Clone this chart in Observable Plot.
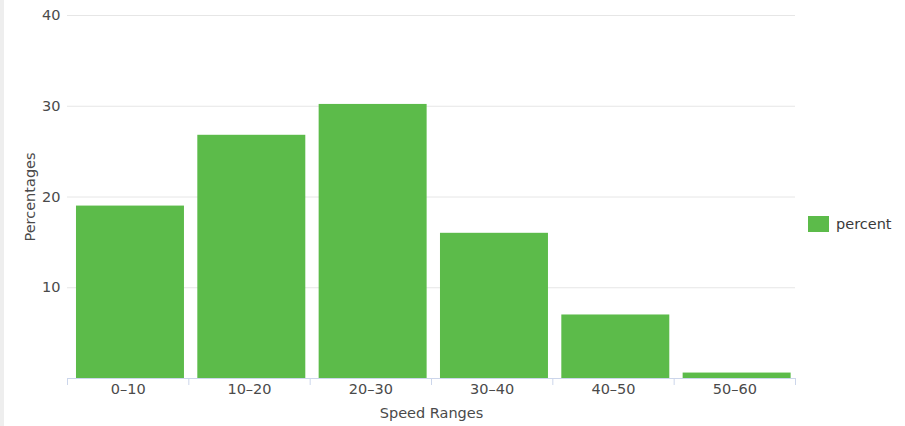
<!DOCTYPE html>
<html>
<head>
<meta charset="utf-8">
<script src="https://cdn.jsdelivr.net/npm/d3@7"></script>
<script src="https://cdn.jsdelivr.net/npm/@observablehq/plot@0.6"></script>
<style>
  html, body { margin: 0; padding: 0; background: #fff; }
  body { width: 905px; height: 426px; position: relative; overflow: hidden; font-family: "DejaVu Sans", sans-serif; }
  #strip { position: absolute; left: 0; top: 0; width: 4px; height: 426px; background: #eeeeee; }
  #chart { position: absolute; left: 0; top: 0; }
  #legend { position: absolute; left: 808px; top: 216px; display: flex; align-items: center; font-size: 14.5px; color: #3a3a3a; }
  #legend .sw { width: 21px; height: 16px; background: #5cbb4a; margin-right: 7px; }
</style>
</head>
<body>
<div id="strip"></div>
<div id="chart"></div>
<div id="legend"><div class="sw"></div><span>percent</span></div>
<script>
const categories = ["0–10", "10–20", "20–30", "30–40", "40–50", "50–60"];
const percent = [19.0, 26.8, 30.2, 16.0, 7.0, 0.6];
const yTicks = [10, 20, 30, 40];
const seriesName = "percent";
const xTitle = "Speed Ranges";
const yTitle = "Percentages";

const data = categories.map((c, i) => ({category: c, index: i, value: percent[i]}));
const bounds = d3.range(categories.length + 1);

const W = 905, H = 426, mt = 15, mb = 48, ml = 67, mr = 110;
const font = "DejaVu Sans, sans-serif";
const fs = 14.5;

const chart = Plot.plot({
  width: W,
  height: H,
  marginTop: mt,
  marginBottom: mb,
  marginLeft: ml,
  marginRight: mr,
  style: {background: "transparent", fontFamily: font, fontSize: fs + "px", overflow: "visible"},
  x: {type: "linear", domain: [0, categories.length], axis: null},
  y: {domain: [0, 40], axis: null},
  marks: [
    Plot.ruleY(yTicks, {stroke: "#e6e6e6", strokeWidth: 1}),
    Plot.rectY(data, {x1: d => d.index + 0.074, x2: d => d.index + 0.964, y: "value", fill: "#5cbb4a"}),
    Plot.ruleY([0], {stroke: "#ccd6eb", strokeWidth: 1}),
    Plot.ruleX(bounds, {x: d => d, stroke: "#ccd6eb", insetTop: H - mt - mb, insetBottom: -7}),
    Plot.text(yTicks, {x: 0, y: d => d, text: d => String(d), textAnchor: "end", dx: -7, fill: "#4a4a4a", fontSize: fs}),
    Plot.text(data, {x: d => d.index + 0.5, y: 0, text: "category", dy: 11, fill: "#4a4a4a", fontSize: fs}),
    Plot.text([xTitle], {frameAnchor: "bottom", textAnchor: "middle", lineAnchor: "bottom", dy: 39, fill: "#4a4a4a", fontSize: fs}),
    Plot.text([yTitle], {frameAnchor: "left", textAnchor: "middle", rotate: -90, dx: -37, fill: "#4a4a4a", fontSize: fs})
  ]
});
document.getElementById("chart").appendChild(chart);
</script>
</body>
</html>
